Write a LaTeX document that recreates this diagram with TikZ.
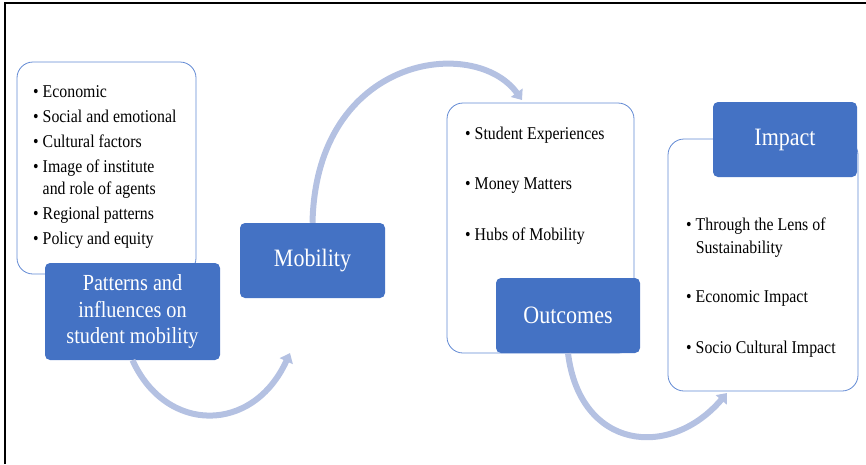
\documentclass[tikz,border=0pt]{standalone}
\usepackage{fontspec}
\setmainfont{Liberation Serif}[FakeStretch=0.88]
\usetikzlibrary{arrows.meta,positioning}

\definecolor{boxblue}{RGB}{68,114,196}
\definecolor{edgeblue}{RGB}{98,138,212}
\definecolor{arcblue}{RGB}{180,193,226}

\begin{document}
\begin{tikzpicture}
        [x=1pt, y=-1pt,
        list box/.style={draw=edgeblue, line width=0.8pt, fill=white, rounded corners=16pt, inner sep=0pt},
        title box/.style={fill=boxblue, text=white, rounded corners=5pt, align=center, inner sep=0pt,
                minimum width=144pt, minimum height=75pt, font=\fontsize{25}{28}\selectfont},
        list text/.style={anchor=base west, inner sep=0pt, text=black},
        flow arrow/.style={draw=arcblue, line width=6pt, -{Triangle[length=9pt,width=14pt]}}]

        \useasboundingbox (0,0) rectangle (866,464);
        \draw[line width=2.5pt] (5,464) -- (5,3) -- (866,3);

        \coordinate (tip1) at (290,353);
        \coordinate (tip2) at (522,100);
        \coordinate (tip3) at (727,393);

        \node[list box, minimum width=179pt, minimum height=212pt] (factors) at (106.5,168) {};
        \node[list box, minimum width=187pt, minimum height=250pt] (results) at (540.5,228) {};
        \node[list box, minimum width=190pt, minimum height=252pt] (effects) at (763,265) {};

        \node[title box, minimum width=175pt, minimum height=97pt, font=\fontsize{23}{26.5}\selectfont]
                (patterns) at (132.5,311.5) {Patterns and\\influences on\\student mobility};
        \node[title box, minimum width=145pt] (mobility) at (312.5,260.5) {Mobility};
        \node[title box] (outcomes) at (568,315.5) {Outcomes};
        \node[title box] (impact) at (785,139.5) {Impact};

        \draw[flow arrow] (patterns.south) .. controls (166,434) and (253,434) .. (tip1);
        \draw[flow arrow] (mobility.north) .. controls (316,55) and (475,35) .. (tip2);
        \draw[flow arrow] (outcomes.south) .. controls (580,450) and (670,460) .. (tip3);

        \node[list text, font=\fontsize{18}{25}\selectfont] (factorlist) at (33,97)
                {\begin{tabular}[t]{@{}l@{\hspace{4pt}}l@{}}
                \textbullet & Economic\\
                \textbullet & Social and emotional\\
                \textbullet & Cultural factors\\
                \textbullet & Image of institute\\[-3pt]
                            & and role of agents\\
                \textbullet & Regional patterns\\
                \textbullet & Policy and equity
                \end{tabular}};
        \node[list text, font=\fontsize{18}{50.5}\selectfont] (resultlist) at (465,139)
                {\begin{tabular}[t]{@{}l@{\hspace{4pt}}l@{}}
                \textbullet & Student Experiences\\
                \textbullet & Money Matters\\
                \textbullet & Hubs of Mobility
                \end{tabular}};
        \node[list text, font=\fontsize{18}{23}\selectfont] (effectlist) at (686,230)
                {\begin{tabular}[t]{@{}l@{\hspace{4pt}}l@{}}
                \textbullet & Through the Lens of\\
                            & Sustainability\\[26pt]
                \textbullet & Economic Impact\\[28pt]
                \textbullet & Socio Cultural Impact
                \end{tabular}};
\end{tikzpicture}
\end{document}
